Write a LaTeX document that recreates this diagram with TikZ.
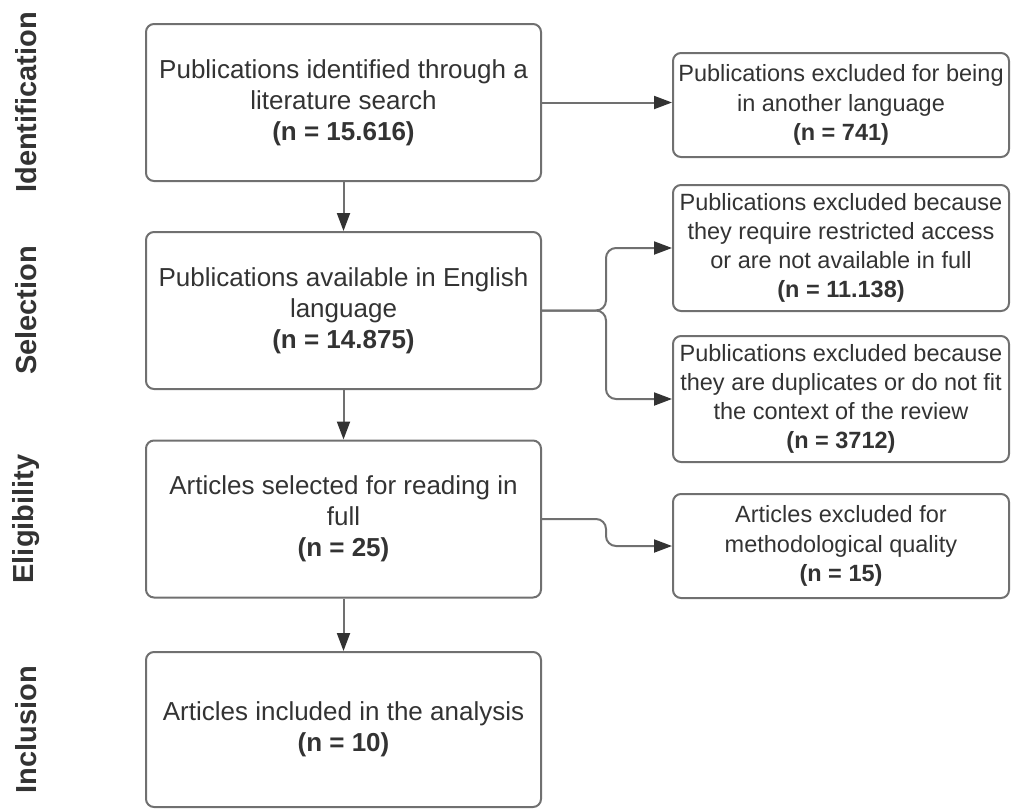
\documentclass[tikz,border=0pt]{standalone}
\usepackage{fontspec}
\setmainfont{Liberation Sans}
\usetikzlibrary{arrows.meta}
\definecolor{linegray}{RGB}{112,112,112}
\definecolor{textgray}{RGB}{51,51,51}

\begin{document}
\begin{tikzpicture}[x=0.5pt,y=-0.5pt,
    mainbox/.style={draw=linegray,line width=1pt,rounded corners=4pt,minimum width=197.5pt,minimum height=78.5pt,
      inner sep=0pt,align=center,text=textgray,font=\fontsize{13}{15.6}\selectfont},
    sidebox/.style={draw=linegray,line width=1pt,rounded corners=4pt,minimum width=168pt,
      inner sep=0pt,align=center,text=textgray,font=\fontsize{11.75}{14.6}\selectfont},
    phase/.style={rotate=90,text=textgray,font=\fontsize{14.5}{17}\selectfont\bfseries},
    arr/.style={draw=linegray,line width=1pt,-{Triangle[length=9pt,width=6.5pt,color=textgray]}}]
  \useasboundingbox (0,0) rectangle (1011,809);
  % phases
  \node[phase] (ident) at (26,102.5) {Identification};
  \node[phase] (select) at (26,310.5) {Selection};
  \node[phase] (elig) at (26,519) {Eligibility};
  \node[phase] (incl) at (26,729.5) {Inclusion};
  % main column
  \node[mainbox] (found) at (343.5,102.5) {Publications identified through a\\literature search\\\textbf{(n = 15.616)}};
  \node[mainbox] (english) at (343.5,310.5) {Publications available in English\\language\\\textbf{(n = 14.875)}};
  \node[mainbox] (reading) at (343.5,519) {Articles selected for reading in\\full\\\textbf{(n = 25)}};
  \node[mainbox,minimum height=77.5pt] (included) at (343.5,729.5) {Articles included in the analysis\\\textbf{(n = 10)}};
  % excluded
  \node[sidebox,minimum height=52pt] (otherlang) at (841,105) {Publications excluded for being\\in another language\\\textbf{(n = 741)}};
  \node[sidebox,minimum height=63pt] (restricted) at (841,248) {Publications excluded because\\they require restricted access\\or are not available in full\\\textbf{(n = 11.138)}};
  \node[sidebox,minimum height=63pt] (duplicates) at (841,399) {Publications excluded because\\they are duplicates or do not fit\\the context of the review\\\textbf{(n = 3712)}};
  \node[sidebox,minimum height=52pt] (quality) at (841,546) {Articles excluded for\\methodological quality\\\textbf{(n = 15)}};
  \coordinate (fork) at (606,310.5);
  \coordinate (bend) at (606,519);
  % arrows
  \draw[arr] (found) -- (english);
  \draw[arr] (english) -- (reading);
  \draw[arr] (reading) -- (included);
  \draw[arr] (found.east) -- (found.east -| otherlang.west);
  \draw[arr,rounded corners=5pt] (english.east) -- (fork) |- (restricted.west);
  \draw[arr,rounded corners=5pt] (english.east) -- (fork) |- (duplicates.west);
  \draw[arr,rounded corners=5pt] (reading.east) -- (bend) |- (quality.west);
\end{tikzpicture}
\end{document}
